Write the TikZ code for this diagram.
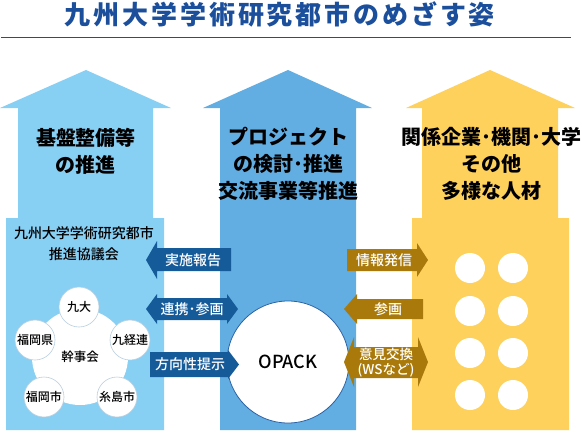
\documentclass[tikz,border=0pt]{standalone}
\usepackage{fontspec}
\setmainfont{Noto Sans CJK JP}
\newfontfamily\jpmedium{Noto Sans CJK JP Medium}
\definecolor{skyLeft}{HTML}{88CFF4}
\definecolor{skyMid}{HTML}{62ADE1}
\definecolor{sunRight}{HTML}{FED15D}
\definecolor{titleBlue}{HTML}{1B4F9C}
\definecolor{flowBlue}{HTML}{155A99}
\definecolor{flowGold}{HTML}{A97A0B}
\definecolor{memberEdge}{HTML}{B9CFDF}
\definecolor{opackEdge}{HTML}{2A62A6}
\begin{document}
\begin{tikzpicture}[x=1pt, y=-1pt,
    header/.style={font=\bfseries\fontsize{20}{27}\selectfont, align=center, text=black, inner sep=0pt},
    member/.style={circle, draw=memberEdge, fill=white, line width=0.6pt, minimum size=40pt, inner sep=0pt, font=\jpmedium\fontsize{12}{14}\selectfont},
    seat/.style={circle, fill=white, minimum size=30pt, inner sep=0pt},
    flowText/.style={text=white, font=\jpmedium\fontsize{14}{15}\selectfont, inner sep=0pt, align=center}
]
    \useasboundingbox (0,0) rectangle (582,432);

    \node[text=titleBlue, font=\fontsize{26}{28}\bfseries\addfontfeature{LetterSpace=11}] (title) at (280,14.5) {九州大学学術研究都市のめざす姿};
    \draw[titleBlue, line width=1pt] (1,37.5) -- (571,37.5);

    % three upward columns
    \fill[skyLeft] (0,108) -- (86,70) -- (171,108) -- (153,108) -- (153,218) -- (164,218) -- (164,430) -- (6,430) -- (6,218) -- (18,218) -- (18,108) -- cycle;
    \fill[skyMid] (203,108) -- (288,70) -- (372,108) -- (356,108) -- (356,430) -- (220,430) -- (220,108) -- cycle;
    \fill[sunRight] (406,108) -- (490,70) -- (575,108) -- (558,108) -- (558,218) -- (569,218) -- (569,430) -- (412,430) -- (412,218) -- (422,218) -- (422,108) -- cycle;

    \node[header] (baseText) at (86,151) {基盤整備等\\の推進};
    \node[header] (projText) at (288,164) {プロジェクト\\の検討･推進\\交流事業等推進};
    \node[header] (peopleText) at (491,164) {関係企業･機関･大学\\その他\\多様な人材};

    % council and its members
    \node[font=\jpmedium\fontsize{14}{21}\selectfont, align=center, inner sep=0pt] (council) at (84,244) {九州大学学術研究都市\\推進協議会};
    \node[circle, fill=white, minimum size=96pt, inner sep=0pt, font=\jpmedium\fontsize{12.5}{14}\selectfont] (kanji) at (80,357) {幹事会};
    \node[member] (kyudai) at (79,307) {九大};
    \node[member] (kyukeiren) at (130,340) {九経連};
    \node[member] (itoshima) at (117,397) {糸島市};
    \node[member] (fukuokaCity) at (44,397) {福岡市};
    \node[member] (fukuokaPref) at (35,340) {福岡県};

    % people on the right
    \foreach \row/\y in {1/268,2/311,3/353,4/395} {
        \node[seat] (seat\row a) at (470,\y) {};
        \node[seat] (seat\row b) at (513,\y) {};
    }

    \node[circle, draw=opackEdge, line width=0.8pt, fill=white, minimum size=122pt, inner sep=0pt, font=\jpmedium\fontsize{18}{20}\selectfont] (opack) at (288,362) {OPACK};

    % flows between columns
    \fill[flowBlue] (146,260) -- (157,241) -- (157,248) -- (231,248) -- (231,271) -- (157,271) -- (157,279) -- cycle;
    \fill[flowBlue] (146,309) -- (157,294) -- (157,298) -- (227,298) -- (227,294) -- (238,309) -- (227,324) -- (227,320) -- (157,320) -- (157,324) -- cycle;
    \fill[flowBlue] (150,352) -- (228,352) -- (228,350) -- (239,364.5) -- (228,379) -- (228,377) -- (150,377) -- cycle;
    \fill[flowGold] (347,249) -- (417,249) -- (417,243) -- (428,260) -- (417,277) -- (417,271) -- (347,271) -- cycle;
    \fill[flowGold] (344,309) -- (357,294) -- (357,299) -- (423,299) -- (423,319) -- (357,319) -- (357,324) -- cycle;
    \fill[flowGold] (344,362) -- (354,337) -- (354,347) -- (418,347) -- (418,337) -- (428,362) -- (418,387) -- (418,378) -- (354,378) -- (354,387) -- cycle;

    \node[flowText] (report) at (193,260) {実施報告};
    \node[flowText] (cooperate) at (192,309) {連携･参画};
    \node[flowText] (direction) at (190,364.5) {方向性提示};
    \node[flowText] (inform) at (384,260) {情報発信};
    \node[flowText] (join) at (388,309) {参画};
    \node[flowText, font=\jpmedium\fontsize{13.5}{15}\selectfont] (exchange) at (386,362.5) {意見交換\\(WSなど)};
\end{tikzpicture}
\end{document}
